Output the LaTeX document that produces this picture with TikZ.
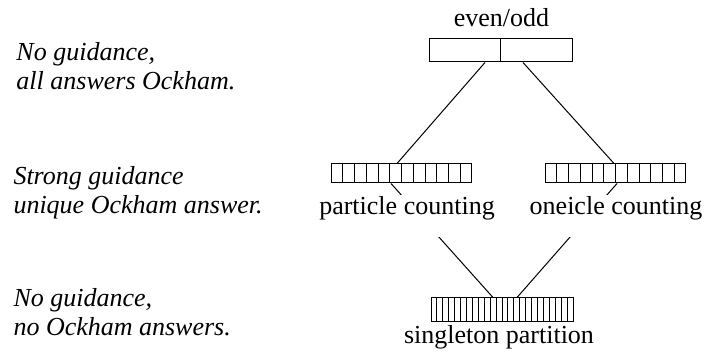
\documentclass[tikz,border=0pt]{standalone}
\usepackage{fontspec}
\setmainfont{Liberation Serif}
\usepackage{tikz}
\usetikzlibrary{calc}

\begin{document}
\begin{tikzpicture}[x=0.5pt, y=-0.5pt, line width=0.5pt,
	font=\fontsize{13pt}{14.8pt}\selectfont,
	part/.style={draw, inner sep=0pt, fill=white},
	lab/.style={fill=white, inner xsep=1pt, inner ysep=0pt, text height=10pt, text depth=11pt, anchor=base},
	note/.style={font=\fontsize{13pt}{14.8pt}\selectfont\itshape, align=left, anchor=base west, inner sep=0pt}]
		\useasboundingbox (0,0) rectangle (707,356);

		% Left column: commentary on each level
		\node[note] (n1) at (16,90) {No guidance,\\all answers Ockham.};
		\node[note] (n2) at (13,214) {Strong guidance\\unique Ockham answer.};
		\node[note] (n3) at (13,336) {No guidance,\\no Ockham answers.};

		% The partitions (boxes with cells)
		\node[part, minimum width=71.5pt, minimum height=11.5pt] (eo) at (500.5,50.5) {};
		\node[part, minimum width=70pt, minimum height=9.5pt] (pc) at (401.5,173.5) {};
		\node[part, minimum width=70pt, minimum height=9.5pt] (oc) at (615.5,173.5) {};
		\node[part, minimum width=71pt, minimum height=12pt] (sg) at (502,310) {};

		\draw (eo.north) -- (eo.south);
		\foreach \i in {1,...,11} {
			\draw ($(pc.north west)!\i/12!(pc.north east)$) -- ($(pc.south west)!\i/12!(pc.south east)$);
			\draw ($(oc.north west)!\i/12!(oc.north east)$) -- ($(oc.south west)!\i/12!(oc.south east)$);
		}
		\foreach \i in {1,...,23}
			\draw ($(sg.north west)!\i/24!(sg.north east)$) -- ($(sg.south west)!\i/24!(sg.south east)$);

		% Refinement lines
		\draw ($(eo.south)+(-15.5,0)$) -- ($(pc.north)+(-4.5,0)$);
		\draw ($(eo.south)+(22.5,0)$) -- ($(oc.north)+(-1.5,0)$);
		\draw ($(pc.south)+(-10.5,0)$) -- ($(sg.north)+(-9,0)$);
		\draw ($(oc.south)+(1.5,0)$) -- ($(sg.north)+(15,0)$);

		% Names of the partitions
		\node[anchor=base, inner sep=0pt] (leo) at (501.5,27) {even/odd};
		\node[lab] (lpc) at (407,215) {particle counting};
		\node[lab] (loc) at (616,215) {oneicle counting};
		\node[anchor=base, inner sep=0pt] (lsg) at (499,344) {singleton partition};
	\end{tikzpicture}
\end{document}
